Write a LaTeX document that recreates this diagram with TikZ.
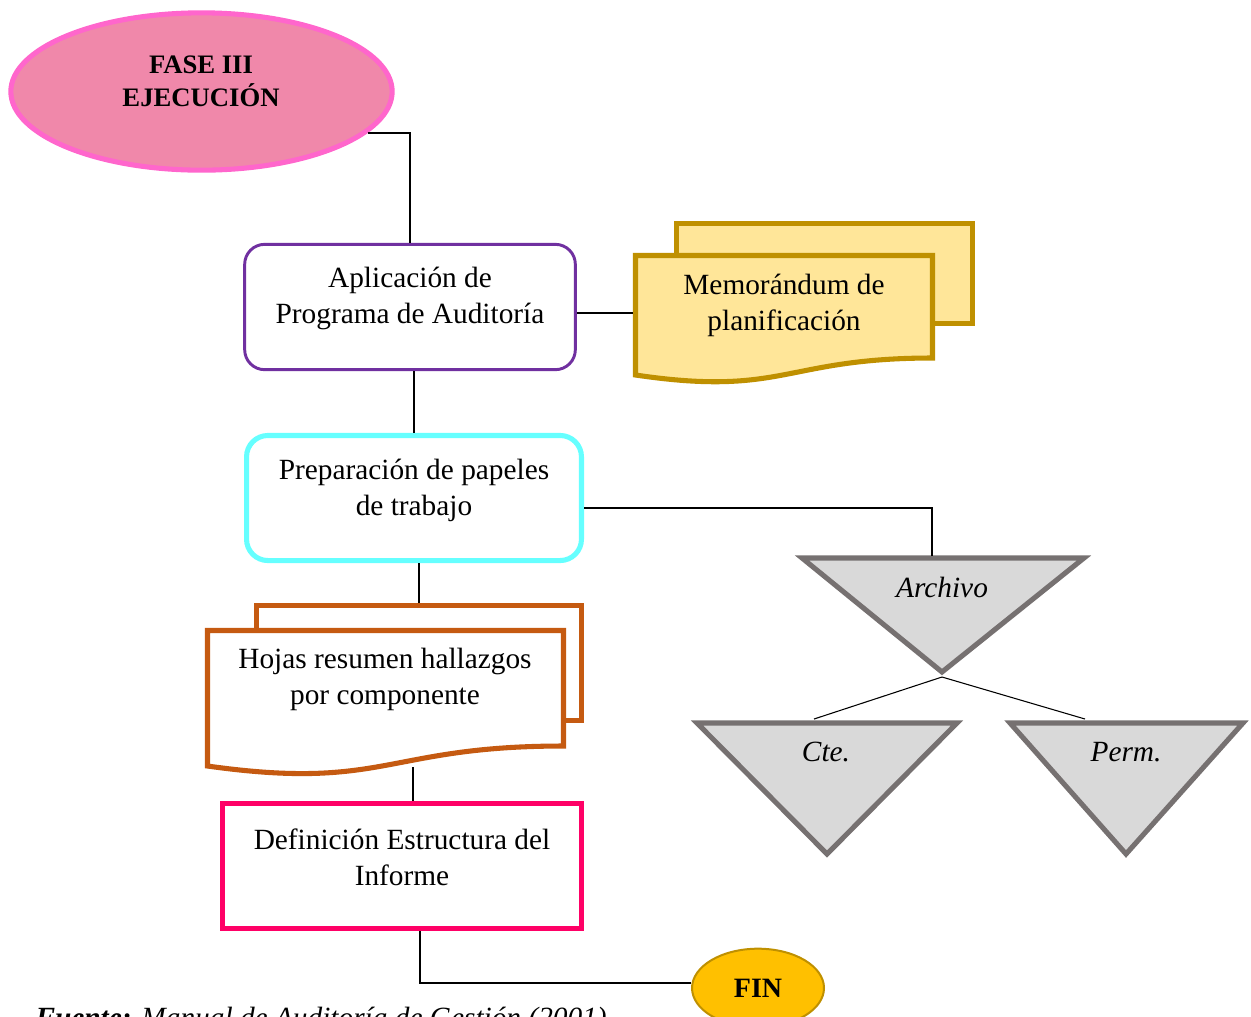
\documentclass[tikz,border=0pt]{standalone}
\usepackage{fontspec}
\setmainfont{Liberation Serif}
\usetikzlibrary{shapes.geometric,calc}

\definecolor{fasefill}{RGB}{240,136,170}
\definecolor{fasedraw}{RGB}{255,102,204}
\definecolor{aplicdraw}{RGB}{112,48,160}
\definecolor{prepdraw}{RGB}{102,255,255}
\definecolor{memofill}{RGB}{255,230,153}
\definecolor{memodraw}{RGB}{191,144,0}
\definecolor{hojdraw}{RGB}{197,90,17}
\definecolor{defdraw}{RGB}{255,0,102}
\definecolor{finfill}{RGB}{255,192,0}
\definecolor{findraw}{RGB}{191,144,0}
\definecolor{trifill}{RGB}{217,217,217}
\definecolor{tridraw}{RGB}{118,113,113}

\begin{document}
\begin{tikzpicture}[x=0.375pt,y=-0.375pt,
  conn/.style={draw=black, line width=0.75pt},
  thinconn/.style={draw=black, line width=0.4pt},
  txt/.style={align=center, inner sep=0pt, font=\fontsize{11}{13.5}\selectfont},
  itxt/.style={inner sep=0pt, font=\fontsize{11}{13.5}\selectfont\itshape},
  tri/.style={fill=trifill, draw=tridraw, line width=1.9pt, line join=miter},
  docshape/.style={line width=1.9pt, line join=miter},
]
\useasboundingbox (0,0) rectangle (1251,1016);

% --- start ellipse
\node[ellipse, draw=fasedraw, fill=fasefill, line width=1.9pt,
      minimum width=143pt, minimum height=59pt, inner sep=0pt] (fase) at (201.5,91.5) {};
\node[txt, font=\bfseries\fontsize{10}{12.4}\selectfont] (fasetxt) at (201,81) {FASE III\\EJECUCIÓN};

% --- Aplicación de Programa de Auditoría
\node[rectangle, rounded corners=7.5pt, draw=aplicdraw, fill=white, line width=1.1pt,
      minimum width=124pt, minimum height=47pt, inner sep=0pt] (aplic) at (410,307) {};
\node[txt] (aplictxt) at (410,298) {Aplicación de\\Programa de Auditoría};

% --- Preparación de papeles de trabajo
\node[rectangle, rounded corners=8pt, draw=prepdraw, fill=white, line width=1.9pt,
      minimum width=125.6pt, minimum height=46.9pt, inner sep=0pt] (prep) at (414,498) {};
\node[txt] (preptxt) at (414,490) {Preparación de papeles\\de trabajo};

% --- Memorándum de planificación (stacked documents)
\draw[docshape, fill=memofill, draw=memodraw] (676.5,223.5) rectangle (972.5,323.5);
\draw[docshape, fill=memofill, draw=memodraw]
  (635.5,255.5) -- (932.5,255.5) -- (932.5,358)
  .. controls (784,358) and (784,397) .. (635.5,375) -- cycle;
\node[txt] (memotxt) at (784,305) {Memorándum de\\planificación};
\coordinate (memoL) at (633,313);

% --- Hojas resumen hallazgos (stacked documents)
\draw[docshape, fill=white, draw=hojdraw] (256.5,605.5) rectangle (581.5,720.5);
\draw[docshape, fill=white, draw=hojdraw]
  (207.5,630.5) -- (563.5,630.5) -- (563.5,746)
  .. controls (385.5,746) and (385.5,791) .. (207.5,766) -- cycle;
\node[txt] (hojtxt) at (385,679) {Hojas resumen hallazgos\\por componente};
\coordinate (hojTop) at (419,603);
\coordinate (hojBot) at (413,767);

% --- Definición Estructura del Informe
\node[rectangle, draw=defdraw, fill=white, line width=1.9pt,
      minimum width=134.6pt, minimum height=46.9pt, inner sep=0pt] (def) at (402,866) {};
\node[txt] (deftxt) at (402,857) {Definición Estructura del\\Informe};

% --- FIN
\node[ellipse, fill=finfill, draw=findraw, line width=0.75pt,
      minimum width=49.5pt, minimum height=29.5pt, inner sep=0pt,
      font=\bfseries\fontsize{10.5}{12}\selectfont] (fin) at (758,988) {FIN};

% --- archive triangles
\draw[tri] (802,558) -- (1084,558) -- (942,672) -- cycle;
\node[itxt] (archtxt) at (942,587) {Archivo};
\draw[tri] (697,723) -- (957,723) -- (827,854) -- cycle;
\node[itxt] (ctetxt) at (826,752) {Cte.};
\draw[tri] (1010,723) -- (1243,723) -- (1126,854) -- cycle;
\node[itxt] (permtxt) at (1126,752) {Perm.};
\coordinate (arcTop) at (932,556);
\coordinate (arcTip) at (942,677);
\coordinate (cteTop) at (814,719);
\coordinate (permTop) at (1085,719);

% --- connectors
\draw[conn] (fase.-14) -| (aplic.north);
\draw[conn] (memoL -| aplic.east) -- (memoL);
\draw[conn] (prep.north) -- (prep.north |- aplic.south);
\draw[thinconn] ($(prep.east)+(0,10)$) -| (arcTop);
\draw[thinconn] (hojTop |- prep.south) -- (hojTop);
\draw[conn] (hojBot) -- (hojBot |- def.north);
\coordinate (defOut) at (420,0);
\draw[conn] (defOut |- def.south) |- (fin.176);
\draw[thinconn] (arcTip) -- (cteTop);
\draw[thinconn] (arcTip) -- (permTop);

% --- source note
\node[anchor=base west, inner sep=0pt, font=\fontsize{11}{13.5}\selectfont] (fuente) at (35,1027)
  {\textbf{\textit{Fuente:}} \textit{Manual de Auditoría de Gestión (2001)}};
\end{tikzpicture}
\end{document}
